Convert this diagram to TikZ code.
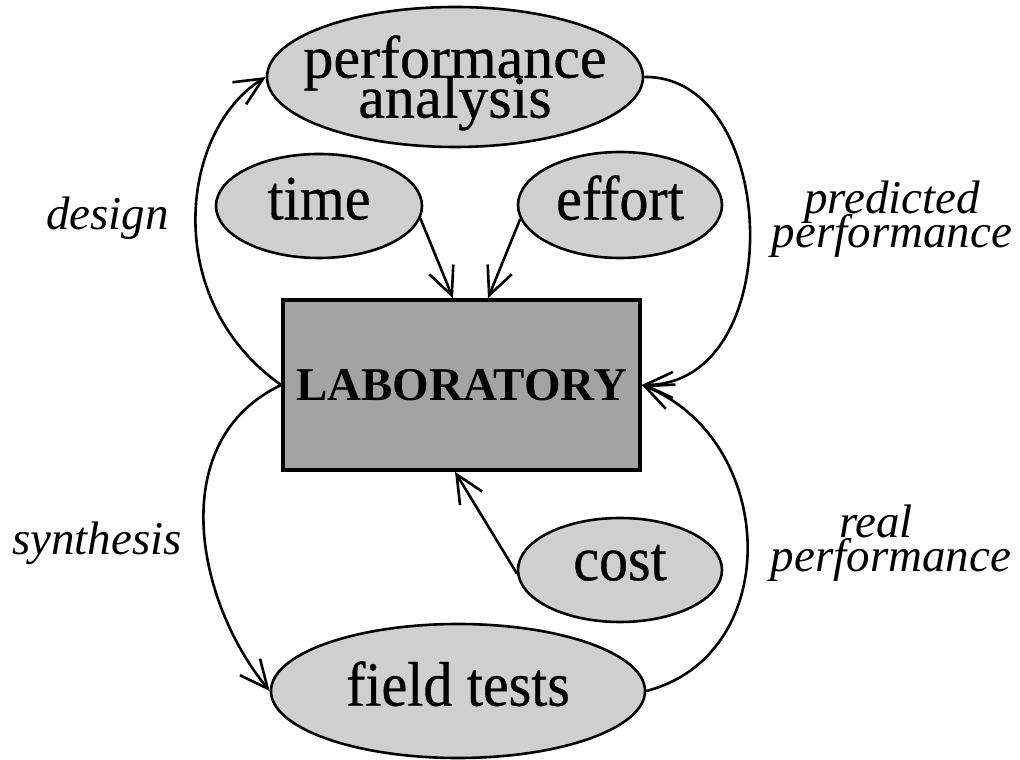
\documentclass[tikz,border=0pt]{standalone}
\usepackage{fontspec}
\setmainfont{Liberation Serif}
\newfontfamily\bubblefont[FakeStretch=0.92,FakeBold=0.5]{Liberation Serif}
\newfontfamily\pairfont[FakeBold=0.5]{Liberation Serif}
\usetikzlibrary{arrows.meta,shapes.geometric}
\definecolor{ellfill}{gray}{0.81}
\definecolor{labfill}{gray}{0.64}
% let stacked lines sit closer than their glyphs would allow
\newcommand\tightlines{\lineskiplimit=-100pt\relax}

\begin{document}
\begin{tikzpicture}[x=1pt,y=1pt,
  bubble/.style={ellipse, draw, line width=2.6pt, fill=ellfill, inner sep=-40pt,
    font={\bubblefont\fontsize{63}{50}\selectfont}, text depth=15pt},
  twoline/.style={bubble, font={\pairfont\fontsize{60}{40}\selectfont\tightlines},
    align=center, text depth=1pt},
  labbox/.style={rectangle, draw, line width=3.6pt, fill=labfill,
    minimum width=357pt, minimum height=170pt, inner sep=0pt,
    font={\fontsize{47}{50}\selectfont\bfseries}},
  tag/.style={font={\fontsize{47}{34}\selectfont\itshape\tightlines},
    align=center, inner sep=0pt},
  flow/.style={line width=2.6pt, -{Straight Barb[length=28pt,width=26pt]}},
]
\useasboundingbox (0,0) rectangle (1020,760);

% the nodes
\node[twoline, minimum width=376pt, minimum height=140pt] (perf) at (455,683) {performance\\analysis};
\node[bubble, minimum width=206pt, minimum height=104pt] (time) at (319,554) {time};
\node[bubble, minimum width=204pt, minimum height=106pt] (effort) at (620,555) {effort};
\node[labbox] (lab) at (461.5,375) {LABORATORY};
\node[bubble, minimum width=204pt, minimum height=104pt] (cost) at (620,190) {cost};
\node[bubble, minimum width=374pt, minimum height=134pt] (field) at (458,69) {field tests};

% arrow ends on the laboratory box
\coordinate (tipT) at ([xshift=-8.5pt]lab.north);
\coordinate (tipE) at ([xshift=26.5pt]lab.north);
\coordinate (tipC) at ([xshift=-6.5pt]lab.south);

% inputs
\draw[flow] (time.-7) -- (tipT);
\draw[flow] (effort.188) -- (tipE);
\draw[flow] (cost.182) -- (tipC);

% the loops
\draw[flow] (lab.west) .. controls (160,460) and (180,630) .. (perf.west);
\draw[flow] (perf.east) .. controls (780,685) and (790,375) .. (lab.east);
\draw[flow] (lab.west) .. controls (165,320) and (195,160) .. (field.west);
\draw[flow] (field.east) .. controls (785,105) and (778,320) .. (lab.east);

% loop labels
\node[tag, anchor=base] (design) at (107.5,530) {design};
\node[tag, anchor=base] (synth) at (97,205) {synthesis};
\node[tag, anchor=base] (pred) at (892,512) {predicted\\performance};
\node[tag, anchor=base] (real) at (891,188) {real\hspace*{30pt}\\performance};
\end{tikzpicture}
\end{document}
